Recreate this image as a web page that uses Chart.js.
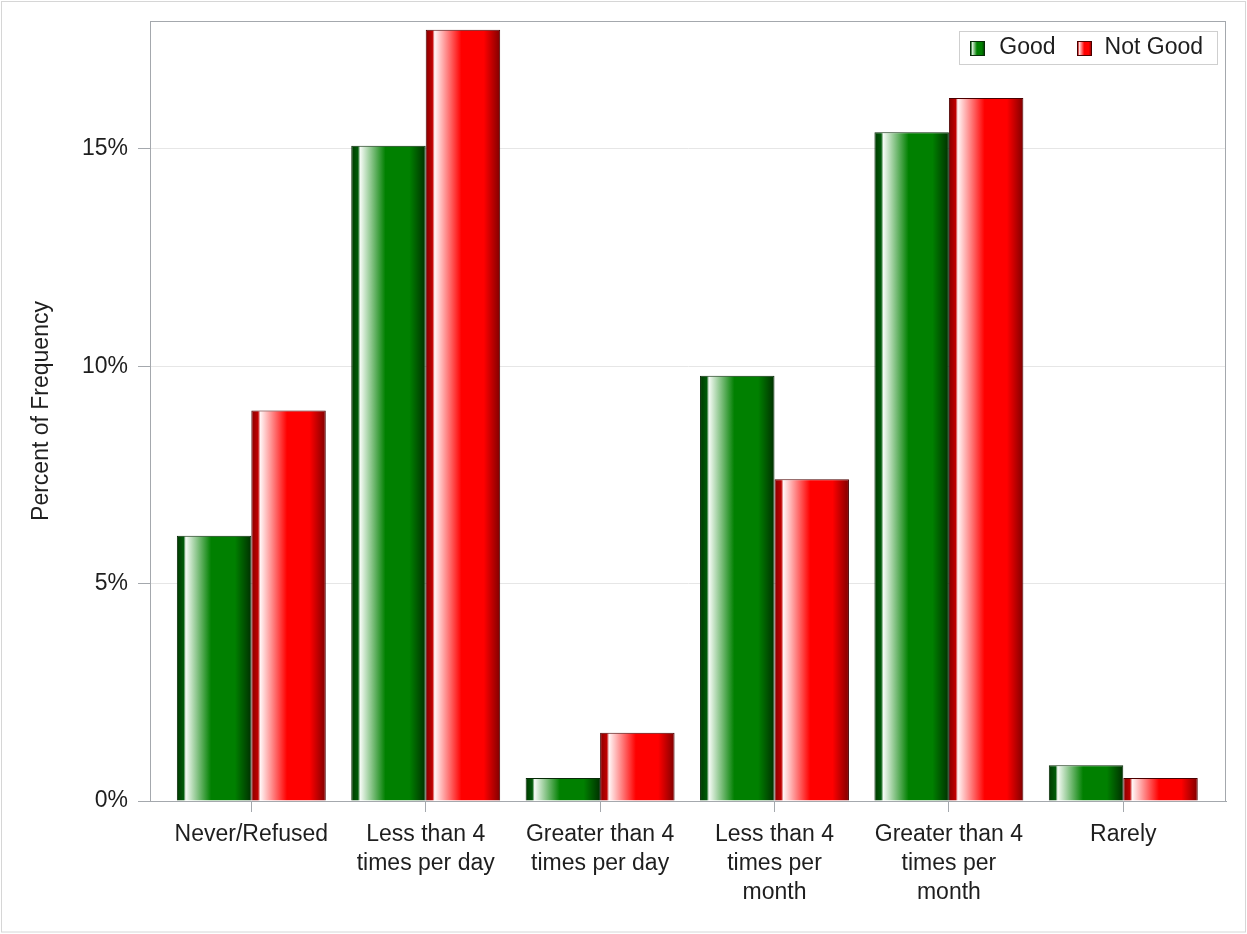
<!DOCTYPE html>
<html>
<head>
  <title>Percent of Frequency</title>
  <script src="https://cdn.jsdelivr.net/npm/chart.js"></script>
  <style>
    body { margin: 0; background: #fff; overflow: hidden; }
    #wrap { position: relative; width: 1247px; height: 934px; }
  </style>
</head>
<body>
<div id="wrap"><canvas id="freqChart"></canvas></div>
<script>
// data
const categories = [
  'Never/Refused',
  ['Less than 4', 'times per day'],
  ['Greater than 4', 'times per day'],
  ['Less than 4', 'times per', 'month'],
  ['Greater than 4', 'times per', 'month'],
  'Rarely'
];
const seriesNames = ['Good', 'Not Good'];
const goodValues = [6.1, 15.07, 0.53, 9.78, 15.38, 0.82];
const notGoodValues = [8.98, 17.74, 1.57, 7.4, 16.17, 0.53];
const yTicks = [0, 5, 10, 15];

const FONT = 'Liberation Sans, Arial, sans-serif';
const TEXT = '#1e1e1e';
const FRAME = '#a4a8ad';
const CAT_PCT = 0.854;

const stops = [
  [[0, '#003a00'], [0.09, '#005a08'], [0.12, '#f6fbf6'], [0.46, '#008000'], [0.78, '#008000'], [1, '#003000']],
  [[0, '#880000'], [0.09, '#c00000'], [0.12, '#fff6f6'], [0.48, '#ff0000'], [0.78, '#ff0000'], [1, '#800000']]
];
const solid = ['#008000', '#ff0000'];
const edge = ['#082a08', '#4a0000'];

function gradient(ctx, left, width, set) {
  const g = ctx.createLinearGradient(left, 0, left + width, 0);
  set.forEach(s => g.addColorStop(s[0], s[1]));
  return g;
}

// fill for each bar, worked out from the x scale the library already laid out
function barFill(c) {
  const chart = c.chart;
  const x = chart.scales.x;
  if (c.type !== 'data' || !x || !x.width) return solid[c.datasetIndex];
  const idx = c.parsed ? c.parsed.x : c.dataIndex;
  const step = x.getPixelForValue(1) - x.getPixelForValue(0);
  const barW = step * CAT_PCT / 2;
  const left = x.getPixelForValue(idx) - step * CAT_PCT / 2 + c.datasetIndex * barW;
  return gradient(chart.ctx, left, barW, stops[c.datasetIndex]);
}

// legend drawn in the top right corner of the plot, like the original
function drawLegend(chart) {
  const ctx = chart.ctx;
  const a = chart.chartArea;
  ctx.save();
  ctx.font = '23px ' + FONT;
  const widths = seriesNames.map(n => ctx.measureText(n).width);
  const boxW = 11 + 15 + 15 + widths[0] + 21 + 15 + 14 + widths[1] + 12;
  const right = Math.round(a.right) - 9;
  const left = right - boxW;
  const top = Math.round(a.top) + 10;
  const h = 33;
  ctx.strokeStyle = '#cfcfcf';
  ctx.lineWidth = 1;
  ctx.strokeRect(Math.round(left) + 0.5, top + 0.5, Math.round(boxW), h);
  let x = left + 11;
  const mid = top + h / 2 + 0.5;
  seriesNames.forEach((n, i) => {
    const sx = Math.round(x), sy = Math.round(mid - 7.5);
    ctx.fillStyle = gradient(ctx, sx, 15, stops[i]);
    ctx.fillRect(sx, sy, 15, 15);
    ctx.strokeStyle = edge[i];
    ctx.strokeRect(sx + 0.5, sy + 0.5, 14, 14);
    x += 15 + (i === 0 ? 14 : 13);
    ctx.fillStyle = TEXT;
    ctx.textBaseline = 'middle';
    ctx.textAlign = 'left';
    ctx.fillText(n, x, mid);
    x += widths[i] + 21;
  });
  ctx.restore();
}

const framePlugin = {
  id: 'frame',
  beforeDraw(chart) {
    const ctx = chart.ctx;
    ctx.save();
    ctx.fillStyle = '#fff';
    ctx.fillRect(0, 0, chart.width, chart.height);
    ctx.strokeStyle = '#d6d6d6';
    ctx.lineWidth = 1;
    ctx.strokeRect(1.5, 1.5, chart.width - 3, chart.height - 3.5);
    ctx.restore();
  },
  afterDraw(chart) {
    const ctx = chart.ctx;
    const a = chart.chartArea;
    ctx.save();
    ctx.strokeStyle = FRAME;
    ctx.lineWidth = 1;
    ctx.strokeRect(Math.round(a.left) + 0.5, Math.round(a.top) + 0.5,
      Math.round(a.right - a.left) - 1, Math.round(a.bottom - a.top));
    ctx.restore();
    drawLegend(chart);
  }
};

const ctx = document.getElementById('freqChart').getContext('2d');
const chart = new Chart(ctx, {
  type: 'bar',
  data: {
    datasets: [
      {
        label: seriesNames[0],
        data: goodValues.map((v, i) => ({ x: i, y: v })),
        backgroundColor: barFill,
        borderColor: edge[0],
        borderWidth: 1
      },
      {
        label: seriesNames[1],
        data: notGoodValues.map((v, i) => ({ x: i, y: v })),
        backgroundColor: barFill,
        borderColor: edge[1],
        borderWidth: 1
      }
    ]
  },
  options: {
    responsive: true,
    maintainAspectRatio: false,
    animation: false,
    categoryPercentage: CAT_PCT,
    barPercentage: 1,
    layout: { padding: { top: 21, right: 21, left: 0, bottom: 0 } },
    font: { family: FONT, size: 23 },
    plugins: {
      tooltip: { enabled: false },
      legend: { display: false }
    },
    scales: {
      x: {
        type: 'linear',
        offset: false,
        min: -0.581,
        max: 5.589,
        afterBuildTicks: (s) => { s.ticks = categories.map((_, i) => ({ value: i })); },
        afterFit: (s) => { s.height = 133; },
        grid: { offset: false, drawOnChartArea: false, drawTicks: true, tickLength: 11, tickColor: FRAME },
        border: { display: true, color: FRAME },
        ticks: {
          autoSkip: false,
          maxRotation: 0,
          minRotation: 0,
          padding: 8,
          color: TEXT,
          font: { family: FONT, size: 23, lineHeight: 1.27 },
          callback: (v) => categories[v]
        }
      },
      y: {
        min: 0,
        max: 17.94,
        afterBuildTicks: (s) => { s.ticks = yTicks.map(v => ({ value: v })); },
        afterFit: (s) => { s.width = 150; },
        grid: { color: '#e6e6e6', tickColor: FRAME, tickLength: 12 },
        border: { display: true, color: FRAME },
        ticks: {
          padding: 10,
          color: TEXT,
          font: { family: FONT, size: 23, lineHeight: 0.8 },
          callback: (v) => v + '%'
        },
        title: {
          display: true,
          text: 'Percent of Frequency',
          color: TEXT,
          font: { family: FONT, size: 23 },
          padding: { top: 28, bottom: 0 }
        }
      }
    }
  },
  plugins: [framePlugin]
});
</script>
</body>
</html>
